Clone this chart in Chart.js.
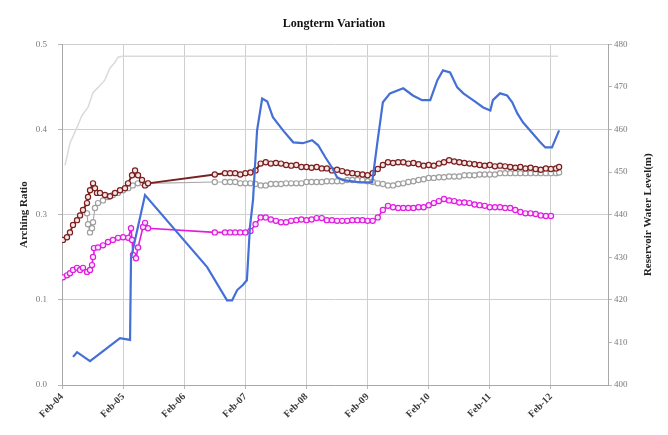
<!DOCTYPE html>
<html>
<head>
<meta charset="utf-8">
<title>Longterm Variation</title>
<script src="https://cdn.jsdelivr.net/npm/chart.js@4/dist/chart.umd.min.js"></script>
<style>
  html, body { margin: 0; padding: 0; background: #ffffff; }
  canvas { display: block; }
</style>
</head>
<body>
<canvas id="chart" width="668" height="435"></canvas>
<script>
// Time axis: months counted from Feb 2004
const xTickMonths = [0, 12, 24, 36, 48, 60, 72, 84, 96];
const xTickLabels = ['Feb-04', 'Feb-05', 'Feb-06', 'Feb-07', 'Feb-08', 'Feb-09', 'Feb-10', 'Feb-11', 'Feb-12'];

// Left axis (arching ratio) ticks, labelled to one decimal
const leftTickValues = [0, 0.125, 0.25, 0.375, 0.5];
const leftTickLabels = ['0.0', '0.1', '0.3', '0.4', '0.5'];

// Right axis (reservoir water level, m)
const rightTickValues = [400, 410, 420, 430, 440, 450, 460, 470, 480];

// Reservoir water level (m)
const levelMonths = [2.16, 2.95, 5.5, 11.39, 13.36, 13.55, 16.3, 28.5, 32.4, 33.4, 34.4, 35.5, 36.3, 36.9, 37.5, 38.3, 39.3, 40.3, 41.4, 43.4, 45.4, 47.3, 49.1, 50.3, 51.7, 53.0, 54.0, 55.2, 58.5, 60.9, 61.9, 63.0, 64.4, 67.0, 68.9, 70.7, 72.3, 73.7, 74.8, 76.2, 77.6, 78.8, 80.7, 82.7, 84.1, 84.6, 86.0, 87.4, 88.4, 89.4, 90.5, 91.9, 93.9, 94.9, 96.2, 96.8, 97.6];
const levelValues = [406.6, 407.7, 405.6, 411.0, 410.6, 429.8, 444.6, 427.7, 419.9, 419.9, 422.3, 423.5, 424.6, 437.1, 443.4, 459.8, 467.3, 466.6, 462.9, 459.8, 457.0, 456.8, 457.5, 456.3, 453.5, 451.1, 448.8, 448.1, 447.6, 447.6, 456.8, 466.4, 468.5, 469.7, 468.0, 466.9, 466.9, 471.6, 473.9, 473.4, 469.9, 468.5, 466.9, 465.2, 464.5, 466.9, 468.5, 468.0, 466.4, 463.8, 461.7, 459.8, 457.0, 455.8, 455.8, 457.5, 459.8];

// Crest elevation during construction (m)
const crestMonths = [0.59, 1.57, 2.95, 3.9, 5.1, 6.1, 7.1, 8.4, 9.4, 10.4, 11.0, 11.8, 97.4];
const crestValues = [451.6, 456.8, 460.5, 463.3, 465.2, 468.7, 469.9, 471.6, 474.4, 475.8, 477.0, 477.2, 477.2];

// Arching ratio, construction period readings
const ratioAEarlyMonths = [0.2, 0.98, 1.57, 2.16, 2.95, 3.54, 4.12, 4.91, 5.11, 5.5, 6.09, 6.48, 6.87, 7.46, 8.44, 9.43, 10.41, 11.39, 12.37, 12.96, 13.75, 14.34, 14.93, 15.71, 16.3, 16.89];
const ratioAEarly = [0.213, 0.217, 0.224, 0.235, 0.242, 0.249, 0.257, 0.267, 0.276, 0.286, 0.296, 0.289, 0.282, 0.282, 0.279, 0.277, 0.282, 0.286, 0.289, 0.296, 0.308, 0.315, 0.308, 0.301, 0.293, 0.296];

const ratioBEarlyMonths = [4.91, 5.11, 5.5, 5.89, 6.09, 6.48, 7.07, 8.05, 9.03, 10.0, 11.0, 12.0, 13.0, 13.9, 14.9, 15.9, 16.89];
const ratioBEarly = [0.252, 0.236, 0.224, 0.230, 0.239, 0.260, 0.267, 0.271, 0.276, 0.279, 0.282, 0.286, 0.289, 0.293, 0.296, 0.296, 0.296];

const ratioCEarlyMonths = [0.2, 0.98, 1.57, 2.16, 2.95, 3.54, 4.12, 4.91, 5.5, 5.89, 6.09, 6.28, 7.07, 8.05, 9.03, 10.0, 11.0, 12.0, 13.0, 13.55, 13.75, 13.94, 14.53, 14.93, 15.91, 16.3, 16.89];
const ratioCEarly = [0.158, 0.161, 0.164, 0.169, 0.172, 0.169, 0.172, 0.166, 0.169, 0.176, 0.188, 0.201, 0.202, 0.205, 0.210, 0.213, 0.216, 0.217, 0.216, 0.230, 0.213, 0.191, 0.186, 0.202, 0.232, 0.238, 0.230];

// Arching ratio, monthly readings after impounding
const lateMonths = [30, 32, 33, 34, 35, 36, 37, 38, 39, 40, 41, 42, 43, 44, 45, 46, 47, 48, 49, 50, 51, 52, 53, 54, 55, 56, 57, 58, 59, 60, 61, 62, 63, 64, 65, 66, 67, 68, 69, 70, 71, 72, 73, 74, 75, 76, 77, 78, 79, 80, 81, 82, 83, 84, 85, 86, 87, 88, 89, 90, 91, 92, 93, 94, 95, 96, 97, 97.6];
const ratioALate = [0.309, 0.311, 0.311, 0.311, 0.309, 0.311, 0.312, 0.315, 0.325, 0.327, 0.325, 0.326, 0.325, 0.323, 0.322, 0.323, 0.320, 0.320, 0.319, 0.320, 0.318, 0.318, 0.315, 0.316, 0.314, 0.312, 0.311, 0.310, 0.309, 0.308, 0.311, 0.317, 0.323, 0.327, 0.326, 0.327, 0.327, 0.325, 0.326, 0.324, 0.322, 0.323, 0.322, 0.325, 0.327, 0.330, 0.328, 0.327, 0.326, 0.325, 0.324, 0.323, 0.322, 0.323, 0.321, 0.322, 0.321, 0.320, 0.319, 0.320, 0.318, 0.319, 0.317, 0.316, 0.318, 0.317, 0.318, 0.320];
const ratioBLate = [0.298, 0.298, 0.298, 0.298, 0.296, 0.296, 0.296, 0.295, 0.293, 0.293, 0.295, 0.295, 0.295, 0.296, 0.296, 0.296, 0.296, 0.298, 0.298, 0.298, 0.298, 0.299, 0.299, 0.299, 0.299, 0.301, 0.301, 0.301, 0.301, 0.299, 0.298, 0.296, 0.295, 0.293, 0.293, 0.295, 0.296, 0.298, 0.299, 0.301, 0.302, 0.304, 0.304, 0.305, 0.305, 0.306, 0.306, 0.306, 0.308, 0.308, 0.308, 0.309, 0.309, 0.309, 0.309, 0.311, 0.311, 0.311, 0.311, 0.311, 0.311, 0.311, 0.311, 0.311, 0.311, 0.311, 0.311, 0.312];
const ratioCLate = [0.224, 0.224, 0.224, 0.224, 0.224, 0.224, 0.226, 0.236, 0.246, 0.246, 0.243, 0.241, 0.239, 0.239, 0.241, 0.242, 0.243, 0.242, 0.243, 0.245, 0.245, 0.242, 0.242, 0.241, 0.241, 0.241, 0.242, 0.242, 0.242, 0.241, 0.241, 0.246, 0.257, 0.263, 0.261, 0.260, 0.260, 0.260, 0.260, 0.261, 0.261, 0.264, 0.267, 0.270, 0.273, 0.271, 0.270, 0.268, 0.268, 0.267, 0.265, 0.264, 0.263, 0.261, 0.261, 0.261, 0.260, 0.260, 0.257, 0.254, 0.252, 0.252, 0.251, 0.249, 0.248, 0.248, null, null];

const chartTitle = 'Longterm Variation';
const leftAxisTitle = 'Arching Ratio';
const rightAxisTitle = 'Reservoir Water Level(m)';

const SERIF = '"Liberation Serif", "Times New Roman", serif';

function points(xs, ys) {
  return xs.map((x, i) => ({ x: x, y: ys[i] }));
}

function ratioSeries(earlyMonths, early, late) {
  return points(earlyMonths.concat(lateMonths), early.concat(late));
}

function fixTicks(values) {
  return scale => { scale.ticks = values.map(v => ({ value: v })); };
}

// Right-hand axis title, reading bottom to top
const rightTitlePlugin = {
  id: 'rightTitle',
  afterDraw(chart) {
    const ctx = chart.ctx;
    const area = chart.chartArea;
    const scale = chart.scales.yLevel;
    ctx.save();
    ctx.translate(scale.right - 20, (area.top + area.bottom) / 2);
    ctx.rotate(-Math.PI / 2);
    ctx.font = 'bold 11px ' + SERIF;
    ctx.fillStyle = '#222222';
    ctx.textAlign = 'center';
    ctx.textBaseline = 'middle';
    ctx.fillText(rightAxisTitle, 0, 0);
    ctx.restore();
  }
};

const markerStyle = (color, fill) => ({
  pointRadius: 2.6,
  pointStyle: 'circle',
  pointBorderColor: color,
  pointBackgroundColor: fill,
  pointBorderWidth: 1.2
});

new Chart(document.getElementById('chart'), {
  type: 'line',
  data: {
    datasets: [
      {
        label: 'Water level',
        data: points(levelMonths, levelValues),
        yAxisID: 'yLevel',
        borderColor: '#4470d6',
        borderWidth: 2.2,
        pointRadius: 0
      },
      Object.assign({
        label: 'Arching ratio A',
        data: ratioSeries(ratioAEarlyMonths, ratioAEarly, ratioALate),
        yAxisID: 'yRatio',
        borderColor: '#7a2020',
        borderWidth: 2
      }, markerStyle('#7a2020', '#f6e6e6')),
      Object.assign({
        label: 'Arching ratio C',
        data: ratioSeries(ratioCEarlyMonths, ratioCEarly, ratioCLate),
        yAxisID: 'yRatio',
        borderColor: '#e01ce0',
        borderWidth: 1.6
      }, markerStyle('#e01ce0', '#fbe8fb')),
      Object.assign({
        label: 'Arching ratio B',
        data: ratioSeries(ratioBEarlyMonths, ratioBEarly, ratioBLate),
        yAxisID: 'yRatio',
        borderColor: '#a8a8a8',
        borderWidth: 1.1
      }, markerStyle('#a0a0a0', '#ffffff')),
      {
        label: 'Crest elevation',
        data: points(crestMonths, crestValues),
        yAxisID: 'yLevel',
        borderColor: '#dadada',
        borderWidth: 1.5,
        pointRadius: 0
      }
    ]
  },
  options: {
    responsive: false,
    animation: false,
    devicePixelRatio: 1,
    layout: { padding: { top: 0, right: 0, bottom: 0, left: 0 } },
    elements: { line: { tension: 0 } },
    plugins: {
      legend: { display: false },
      tooltip: { enabled: false },
      title: {
        display: true,
        text: chartTitle,
        color: '#111111',
        font: { family: SERIF, size: 12, weight: 'bold' },
        padding: { top: 17, bottom: 13 }
      }
    },
    scales: {
      x: {
        type: 'linear',
        min: 0,
        max: 107.2,
        afterBuildTicks: fixTicks(xTickMonths),
        afterFit: s => { s.height = 50; },
        border: { color: '#a8a8a8', width: 1 },
        grid: { color: '#cfcfcf', lineWidth: 1, tickLength: 4, tickColor: '#b8b8b8' },
        ticks: {
          autoSkip: false,
          minRotation: 45,
          maxRotation: 45,
          padding: 2,
          color: '#3a3a3a',
          font: { family: SERIF, size: 10, weight: 'bold' },
          callback: (v, i) => xTickLabels[i]
        }
      },
      yRatio: {
        type: 'linear',
        position: 'left',
        min: 0,
        max: 0.5,
        afterBuildTicks: fixTicks(leftTickValues),
        afterFit: s => { s.width = 62; },
        border: { color: '#a8a8a8', width: 1 },
        grid: { color: '#cfcfcf', lineWidth: 1, tickLength: 4, tickColor: '#b8b8b8' },
        ticks: {
          padding: 11,
          color: '#7a7a7a',
          font: { family: SERIF, size: 9 },
          callback: (v, i) => leftTickLabels[i]
        },
        title: {
          display: true,
          text: leftAxisTitle,
          color: '#222222',
          font: { family: SERIF, size: 11, weight: 'bold' },
          padding: { top: 18, bottom: 0 }
        }
      },
      yLevel: {
        type: 'linear',
        position: 'right',
        min: 400,
        max: 480,
        afterBuildTicks: fixTicks(rightTickValues),
        afterFit: s => { s.width = 60; },
        border: { color: '#a8a8a8', width: 1 },
        grid: { drawOnChartArea: false, tickLength: 4, tickColor: '#b8b8b8' },
        ticks: {
          padding: 2,
          color: '#7a7a7a',
          font: { family: SERIF, size: 9 },
          callback: v => String(v)
        }
      }
    }
  },
  plugins: [rightTitlePlugin]
});
</script>
</body>
</html>
